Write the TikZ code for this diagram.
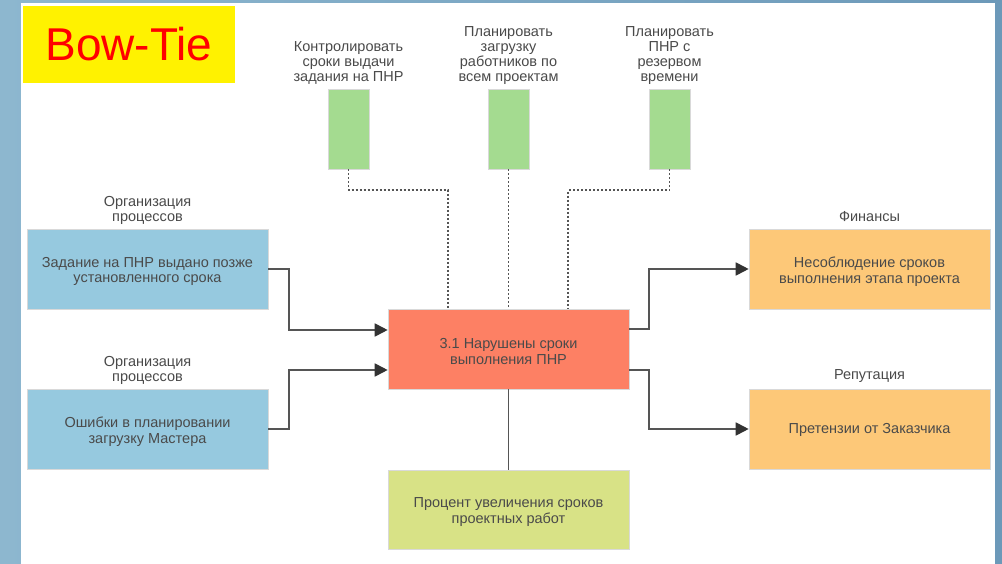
\documentclass[tikz,border=0pt]{standalone}
\usepackage{fontspec}
\setmainfont{Liberation Sans}
\usetikzlibrary{arrows.meta,calc}
\definecolor{bgL}{HTML}{8DB7CF}
\definecolor{bgR}{HTML}{6C99B9}
\definecolor{cBlue}{HTML}{96C9DF}
\definecolor{cRed}{HTML}{FD8064}
\definecolor{cGreen}{HTML}{A4DB90}
\definecolor{cLime}{HTML}{D8E286}
\definecolor{cOrange}{HTML}{FDC878}
\definecolor{cText}{HTML}{4A4A4A}
\definecolor{cLine}{HTML}{555555}
\definecolor{cHead}{HTML}{333333}
\tikzset{
  x=1pt, y=-1pt,
  box/.style={draw=white!85!black, line width=0.6pt, minimum width=241pt, minimum height=80pt, inner sep=0pt},
  btxt/.style={align=center, text=cText, font=\fontsize{14.5}{15.5}\selectfont, inner sep=0pt},
  bar/.style={draw=white!85!black, line width=0.6pt, fill=cGreen, minimum width=41pt, minimum height=80pt, inner sep=0pt},
  lbl/.style={align=center, text=cText, font=\fontsize{14.5}{15}\selectfont, inner sep=0pt},
  arr/.style={draw=cLine, line width=1.8pt, -{Triangle[length=13pt,width=13pt,color=cHead]}},
  link/.style={draw=cLine, line width=1.8pt},
  dots/.style={draw=cLine, line width=1.6pt, dash pattern=on 2pt off 2pt},
}
\begin{document}
\begin{tikzpicture}
\shade[left color=bgL, right color=bgR] (0,0) rectangle (1002,564);
\useasboundingbox (0,0) rectangle (1002,564);
\fill[white] (21,3) rectangle (995,564);
\node[fill=yellow, minimum width=212pt, minimum height=77pt, inner sep=0pt, text=red,
  font=\fontsize{46}{50}\selectfont] (title) at (129,44.5) {Bow-Tie};

\node[box, fill=cBlue] (A) at (147.5,269) {};
\node[box, fill=cBlue] (B) at (147.5,429) {};
\node[box, fill=cRed] (R) at (508.5,349) {};
\node[box, fill=cLime, minimum height=79pt] (P) at (508.5,509.5) {};
\node[box, fill=cOrange] (F) at (869.5,269) {};
\node[box, fill=cOrange] (Z) at (869.5,429) {};

\node[btxt] (At) at ([yshift=-2.5pt]A.center) {Задание на ПНР выдано позже\\установленного срока};
\node[btxt] (Bt) at ([yshift=-2.5pt]B.center) {Ошибки в планировании\\загрузку Мастера};
\node[btxt] (Rt) at ([yshift=-2.5pt]R.center) {3.1 Нарушены сроки\\выполнения ПНР};
\node[btxt] (Pt) at ([yshift=-2.5pt]P.center) {Процент увеличения сроков\\проектных работ};
\node[btxt] (Ft) at ([yshift=-2.5pt]F.center) {Несоблюдение сроков\\выполнения этапа проекта};
\node[btxt] (Zt) at ([yshift=-1pt]Z.center) {Претензии от Заказчика};

\node[bar] (g1) at (348.5,129) {};
\node[bar] (g2) at (508.5,129) {};
\node[bar] (g3) at (669.5,129) {};

\node[lbl, anchor=south] (lA) at ([yshift=4pt]A.north) {Организация\\процессов};
\node[lbl, anchor=south] (lB) at ([yshift=4pt]B.north) {Организация\\процессов};
\node[lbl, anchor=south] (lF) at ([yshift=7pt]F.north) {Финансы};
\node[lbl, anchor=south] (lZ) at ([yshift=6pt]Z.north) {Репутация};
\node[lbl, anchor=south] (l1) at ([yshift=4pt]g1.north) {Контролировать\\сроки выдачи\\задания на ПНР};
\node[lbl, anchor=south] (l2) at ([yshift=4pt]g2.north) {Планировать\\загрузку\\работников по\\всем проектам};
\node[lbl, anchor=south] (l3) at ([yshift=4pt]g3.north) {Планировать\\ПНР с\\резервом\\времени};

\draw[arr] (A.east) -- ++(21,0) |- ([yshift=19pt]R.west);
\draw[arr] (B.east) -- ++(21,0) |- ([yshift=-21pt]R.west);
\draw[arr] ([yshift=20pt]R.east) -- ++(20,0) |- (F.west);
\draw[arr] ([yshift=-21pt]R.east) -- ++(20,0) |- (Z.west);
\draw[link] (R.south) -- (P.north);
\draw[dots] (g1.south) -- ++(0,21) -| ([xshift=-60.5pt]R.north);
\draw[dots] (g2.south) -- (R.north);
\draw[dots] (g3.south) -- ++(0,21) -| ([xshift=59.5pt]R.north);
\end{tikzpicture}
\end{document}
